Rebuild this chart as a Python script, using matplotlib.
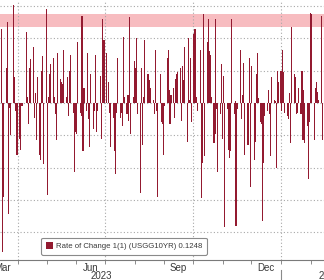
import numpy as np
import pandas as pd
import matplotlib
matplotlib.use("Agg")
import matplotlib.pyplot as plt
import matplotlib.dates as mdates
import matplotlib.transforms as mtransforms
from matplotlib.patches import Patch

# daily rate of change of the US 10y yield (units = one gridline)
roc_mar_may = [2.3, -4.6, -2.9, 1.1, 2.5, -3.45, -0.15, -1.0, 3.05, 0.8, -0.25, -0.5,
               -1.6, -1.1, -1.45, -0.1, -0.1, 2.2, 0.2, -0.65, 1.1, 1.35, 1.75, -0.45,
               0.3, -1.15, 0.8, -1.6, -1.75, 1.0, 1.45, -1.9, 2.9, -2.85, 0.2, 0.9,
               1.2, 1.4, 0.2, -0.35, -1.15, 1.55, 0.75, 0.65, 0.6, 0.55, 1.65, 0.2,
               0.8, -0.4, 1.0, 1.5, -0.3, -2.15, -0.9, -0.95, 1.9, -0.3]
roc_jun_aug = [-0.4, 2.7, -1.5, 0.45, -0.25, 1.55, -0.5, -1.35, 0.9, -0.8, -0.25, 1.5,
               -0.9, -0.25, 0.85, -1.1, 2.6, 0.35, 1.95, 1.55, 0.65, -0.3, -1.35, -0.45,
               -1.5, -2.2, -0.3, 1.4, -0.45, -0.3, -0.7, 2.05, 0.2, -0.35, 0.25, -0.55,
               2.65, -0.95, 0.2, 1.3, 1.1, 2.0, -0.35, -2.8, 1.1, -1.3, 0.2, 1.95,
               0.75, 0.9, 0.45, 0.7, 0.45, 0.1, -0.35, 1.65, -0.25, -2.9, 0.9, -0.6]
roc_sep_nov = [-0.65, -1.6, -0.1, 1.4, 1.65, 0.4, -0.65, 0.25, 0.45, -0.45, 0.75, 0.9,
               0.95, 1.1, -0.55, 1.15, 0.7, 1.75, -1.2, 2.0, 0.1, 1.4, -0.6, 2.15,
               2.3, 2.3, 0.2, -0.25, 1.65, -2.95, -1.85, 2.75, -1.65, 1.9, 2.6, 1.6,
               1.5, 0.2, -1.25, -0.95, 2.6, -0.2, -2.15, -0.35, 1.2, -1.1, 0.85, -3.85,
               -0.2, -1.45, -1.7, -1.5, 2.6, -0.35, 0.05, -3.8, -0.2, -0.15, 1.65]
roc_dec_feb = [-0.5, 0.25, 1.25, -1.6, -1.3, -1.3, 1.4, -2.6, 1.15, -1.75, -1.2, 0.9,
               1.55, 0.15, -0.6, -0.65, -3.65, -1.85, -0.4, -0.25, 0.4, -0.35, -1.65, 0.8,
               0.1, 0.05, -2.0, 1.0, 0.65, 1.0, -0.25, 1.65, 0.95, -0.3, -0.4, -0.5,
               0.3, -1.25, 2.35, 0.9, 0.8, -0.35, -0.3, 0.45, -0.35, 1.0, -1.15, 0.4,
               -1.25, -0.7, -2.35, -0.6, 2.8, 2.75, -1.15, 0.45, 0.65, 0.35, 0.1, 2.7,
               -1.15]
first_day = "2023-03-15"
market_closed = ["2023-04-07", "2023-07-04"]
band_lo, band_hi = 2.35, 2.76
legend_label = "Rate of Change 1(1) (USGG10YR) 0.1248"

values = np.array(roc_mar_may + roc_jun_aug + roc_sep_nov + roc_dec_feb)
dates = pd.bdate_range(first_day, periods=len(values), freq="C", holidays=market_closed)

bar_color = "#931a30"
grid_color = "#a8a8a8"
txt_color = "#3a3a3a"
font = ["Liberation Sans Narrow", "Liberation Sans", "DejaVu Sans"]

fig = plt.figure(figsize=(3.24, 2.80), dpi=100)
ax = fig.add_axes([0, 20 / 280, 1, 260 / 280])

ax.axhspan(band_lo, band_hi, color="#f7bcc0", lw=0, zorder=0)
ax.bar(dates, values, width=1.15, color=bar_color, lw=0, zorder=3)

ax.set_xlim(pd.Timestamp("2023-03-13 05:00"), pd.Timestamp("2024-02-15"))
ax.set_ylim(-4.86, 3.19)

# dotted grid
for y in range(-4, 4):
    ax.axhline(y, color=grid_color, lw=0.8, ls=(0, (1, 2)), zorder=1)
for q in ["2023-04-01", "2023-07-01", "2023-10-01", "2024-01-01"]:
    ax.axvline(pd.Timestamp(q), color=grid_color, lw=0.8, ls=(0, (1, 2)), zorder=1)

for s in ["left", "right", "top"]:
    ax.spines[s].set_visible(False)
ax.spines["bottom"].set_color("#7a7a7a")
ax.spines["bottom"].set_linewidth(0.8)
ax.set_yticks([])

# month ticks + quarter-month labels
ax.xaxis.set_minor_locator(mdates.MonthLocator())
ax.xaxis.set_major_locator(mdates.MonthLocator(bymonth=[3, 6, 9, 12], bymonthday=16))
ax.xaxis.set_major_formatter(mdates.DateFormatter("%b"))
ax.tick_params(axis="x", which="minor", length=3, width=0.6, color="#7a7a7a")
ax.tick_params(axis="x", which="major", length=0, pad=2, labelsize=7, labelcolor=txt_color)
for lbl in ax.get_xticklabels():
    lbl.set_family(font)

trans = mtransforms.blended_transform_factory(ax.transData, ax.transAxes)
ax.text(pd.Timestamp("2023-06-27"), -0.062, "2023", transform=trans, ha="center", va="center",
        fontsize=7, color=txt_color, family=font)
ax.text(pd.Timestamp("2024-02-09"), -0.062, "2024", transform=trans, ha="left", va="center",
        fontsize=7, color=txt_color, family=font)
ax.plot([pd.Timestamp("2024-01-01")] * 2, [-0.038, -0.08], transform=trans, color="#8a8a8a",
        lw=0.8, clip_on=False)

leg = ax.legend(handles=[Patch(facecolor=bar_color, edgecolor="none", label=legend_label)],
                loc="lower left", bbox_to_anchor=(41 / 324, 5 / 260), frameon=True,
                fancybox=True, handlelength=0.9, handleheight=0.9,
                handletextpad=0.4, borderpad=0.6, borderaxespad=0,
                prop={"family": font, "size": 5.6})
leg.get_frame().set_edgecolor("#8a8a8a")
leg.get_frame().set_linewidth(0.8)
leg.get_frame().set_alpha(1)
for t in leg.get_texts():
    t.set_color(txt_color)
leg.set_zorder(5)

fig.savefig("out.png", dpi=100)
